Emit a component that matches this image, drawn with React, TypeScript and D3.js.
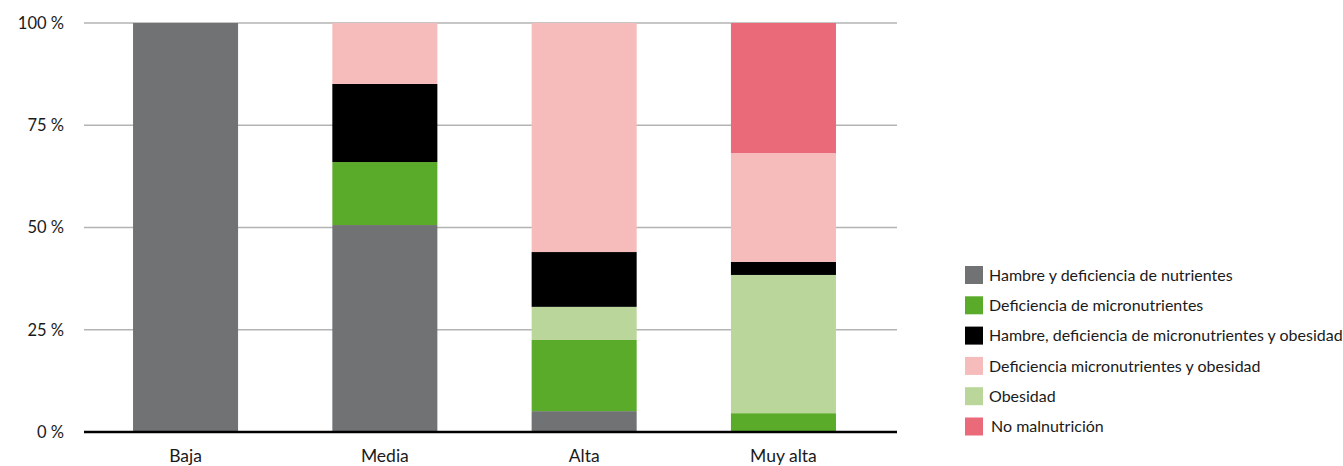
import React, { useEffect, useRef } from 'react';
import * as d3 from 'd3';

// categories along the x axis
const categories = ['Baja', 'Media', 'Alta', 'Muy alta'];

// series (stack order, bottom to top)
const seriesNames = [
  'Hambre y deficiencia de nutrientes',
  'Deficiencia de micronutrientes',
  'Obesidad',
  'Hambre, deficiencia de micronutrientes y obesidad',
  'Deficiencia micronutrientes y obesidad',
  'No malnutrición',
];

// values (%) per series, one per category
const hambre = [100, 50.6, 5.1, 0];
const deficiencia = [0, 15.4, 17.4, 4.6];
const obesidad = [0, 0, 8.1, 33.8];
const hambreDefObes = [0, 19.1, 13.4, 3.2];
const defObes = [0, 14.9, 56.0, 26.6];
const noMal = [0, 0, 0, 31.8];

const seriesValues = [hambre, deficiencia, obesidad, hambreDefObes, defObes, noMal];
const seriesColors = ['#717274', '#5aab2a', '#bbd69b', '#000000', '#f6bbbb', '#eb6a7a'];

// legend order as shown
const legendOrder = [0, 1, 3, 4, 2, 5];

const yTicks = [0, 25, 50, 75, 100];

const App = () => {
  const ref = useRef<SVGSVGElement | null>(null);

  useEffect(() => {
    const svg = d3.select(ref.current);
    svg.selectAll('*').remove();

    const font = 'Lato, "Noto Sans", sans-serif';
    const x = d3.scaleBand().domain(categories).range([86, 883]).paddingInner(0.473).paddingOuter(0.236);
    const y = d3.scaleLinear().domain([0, 100]).range([432, 23]);

    // build rows for d3.stack
    const rows = categories.map((c, i) => {
      const r: any = { cat: c };
      seriesNames.forEach((s, j) => (r[s] = seriesValues[j][i]));
      return r;
    });
    const stacked = d3.stack().keys(seriesNames)(rows);

    // gridlines
    svg.append('g')
      .selectAll('line')
      .data(yTicks.filter(t => t > 0))
      .join('line')
      .attr('x1', 84)
      .attr('x2', 897)
      .attr('y1', d => y(d))
      .attr('y2', d => y(d))
      .attr('stroke', '#b3b3b3')
      .attr('stroke-width', 1.5);

    // bars
    stacked.forEach((layer, j) => {
      svg.append('g')
        .attr('fill', seriesColors[j])
        .selectAll('rect')
        .data(layer)
        .join('rect')
        .attr('x', (d: any) => x(d.data.cat) as number)
        .attr('width', x.bandwidth())
        .attr('y', d => y(d[1]))
        .attr('height', d => Math.max(0, y(d[0]) - y(d[1])));
    });

    // base axis line
    svg.append('line')
      .attr('x1', 84)
      .attr('x2', 897)
      .attr('y1', y(0))
      .attr('y2', y(0))
      .attr('stroke', '#000')
      .attr('stroke-width', 2.5);

    // y labels
    svg.append('g')
      .selectAll('text')
      .data(yTicks)
      .join('text')
      .attr('x', 64)
      .attr('y', d => y(d))
      .attr('dy', '0.35em')
      .attr('text-anchor', 'end')
      .attr('font-family', font)
      .attr('font-size', 16.5)
      .attr('fill', '#1a1a1a')
      .text(d => `${d} %`);

    // x labels
    svg.append('g')
      .selectAll('text')
      .data(categories)
      .join('text')
      .attr('x', d => (x(d) as number) + x.bandwidth() / 2)
      .attr('y', 462)
      .attr('text-anchor', 'middle')
      .attr('font-family', font)
      .attr('font-size', 17.5)
      .attr('fill', '#1a1a1a')
      .text(d => d);

    // legend
    const legend = svg.append('g');
    legendOrder.forEach((j, i) => {
      const cy = 275 + i * 30.3;
      legend.append('rect')
        .attr('x', 965)
        .attr('y', cy - 9)
        .attr('width', 18)
        .attr('height', 18)
        .attr('fill', seriesColors[j]);
      legend.append('text')
        .attr('x', j === 5 ? 991 : 989)
        .attr('y', cy)
        .attr('dy', '0.35em')
        .attr('font-family', font)
        .attr('font-size', 16)
        .attr('fill', '#1a1a1a')
        .text(seriesNames[j]);
    });
  }, []);

  return (
    <svg
      ref={ref}
      width={1343}
      height={466}
      style={{ position: 'absolute', left: 0, top: 0, background: '#fff' }}
    />
  );
};

export default App;
